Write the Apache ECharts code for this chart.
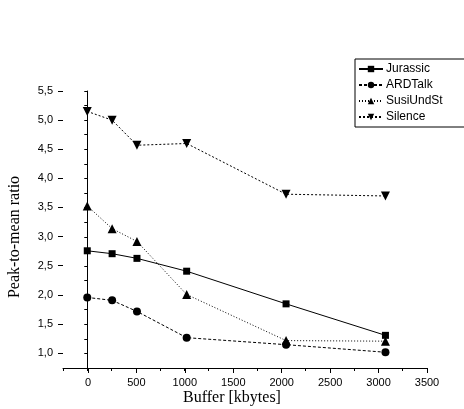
<!DOCTYPE html>
<html>
<head>
<meta charset="utf-8">
<script src="https://cdn.jsdelivr.net/npm/echarts@6/dist/echarts.min.js"></script>
<style>html,body{margin:0;padding:0;background:#fff;}#c{width:464px;height:409px;}</style>
</head>
<body>
<div id="c"></div>
<script>
var bufferKB = [0, 256, 512, 1024, 2048, 3072];
var jurassic = [2.76, 2.71, 2.63, 2.41, 1.85, 1.31];
var ardTalk = [1.96, 1.91, 1.72, 1.27, 1.15, 1.02];
var susiUndSt = [3.53, 3.14, 2.92, 2.01, 1.22, 1.21];
var silence = [5.15, 5.00, 4.57, 4.60, 3.73, 3.70];
var seriesNames = ['Jurassic', 'ARDTalk', 'SusiUndSt', 'Silence'];
var xTitle = 'Buffer [kbytes]';
var yTitle = 'Peak-to-mean ratio';

function pairs(ys) { return bufferKB.map(function (x, i) { return [x, ys[i]]; }); }

var chart = echarts.init(document.getElementById('c'), null, {renderer: 'canvas'});
var labelFont = {fontFamily: 'Liberation Sans', fontSize: 11, color: '#000'};
var axisLine = {show: true, lineStyle: {color: '#000', width: 1}};

chart.setOption({
  animation: false,
  backgroundColor: '#fff',
  grid: [
    {left: 63, right: 37, top: 91, bottom: 41},
    {left: 88, right: 37, top: 91, bottom: 41},
    {left: 63, right: 37, top: 91, bottom: 56}
  ],
  xAxis: [
    {gridIndex: 0, type: 'value', min: -250, max: 3500, interval: 250,
     axisLine: axisLine, axisTick: {show: true, length: 3, lineStyle: {color: '#000'}},
     axisLabel: {show: false}, splitLine: {show: false}},
    {gridIndex: 1, type: 'value', min: 0, max: 3500, interval: 500,
     axisLine: {show: false}, axisTick: {show: true, length: 5, lineStyle: {color: '#000'}},
     axisLabel: Object.assign({show: true, margin: 9,
       formatter: function (v) { return String(v); }}, labelFont), splitLine: {show: false}},
    {gridIndex: 2, type: 'value', min: 0, max: 3500, show: false}
  ],
  yAxis: [
    {gridIndex: 0, type: 'value', min: 0.75, max: 5.5, interval: 0.25,
     axisLine: axisLine, axisTick: {show: true, length: 3, lineStyle: {color: '#000'}},
     axisLabel: {show: false}, splitLine: {show: false}},
    {gridIndex: 1, type: 'value', min: 0, max: 1, show: false},
    {gridIndex: 2, type: 'value', min: 1.0, max: 5.5, interval: 0.5,
     axisLine: {show: false}, axisTick: {show: true, length: 5, lineStyle: {color: '#000'}},
     axisLabel: Object.assign({show: true, margin: 10,
       formatter: function (v) { return v.toFixed(1).replace('.', ','); }}, labelFont),
     splitLine: {show: false}}
  ],
  legend: {
    orient: 'vertical', left: 355, top: 59,
    data: seriesNames,
    borderColor: '#000', borderWidth: 1, borderRadius: 0,
    padding: [4, 60, 4, 3], itemGap: 4, itemWidth: 24, itemHeight: 8,
    textStyle: {fontFamily: 'Liberation Sans', fontSize: 12, color: '#000', padding: [0, 0, 0, -2]}
  },
  graphic: [
    {type: 'text', left: 'center', top: 390, style: {text: xTitle, font: '16px "Liberation Serif"', fill: '#000'}},
    {type: 'text', x: 15, y: 237, rotation: Math.PI / 2,
     style: {text: yTitle, font: '16px "Liberation Serif"', fill: '#000', align: 'center', verticalAlign: 'middle'}}
  ],
  series: [
    {name: seriesNames[0], type: 'line', data: pairs(jurassic), symbol: 'rect', symbolSize: 7,
     itemStyle: {color: '#000'}, lineStyle: {color: '#000', width: 1, type: 'solid'}},
    {name: seriesNames[1], type: 'line', data: pairs(ardTalk), symbol: 'circle', symbolSize: 8,
     itemStyle: {color: '#000'}, lineStyle: {color: '#000', width: 1, type: [3, 2]}},
    {name: seriesNames[2], type: 'line', data: pairs(susiUndSt), symbol: 'triangle', symbolSize: 9,
     itemStyle: {color: '#000'}, lineStyle: {color: '#000', width: 1, type: [1, 2]}},
    {name: seriesNames[3], type: 'line', data: pairs(silence), symbol: 'triangle', symbolRotate: 180, symbolSize: 9,
     itemStyle: {color: '#000'}, lineStyle: {color: '#000', width: 1, type: [2, 2]}}
  ]
});
</script>
</body>
</html>
